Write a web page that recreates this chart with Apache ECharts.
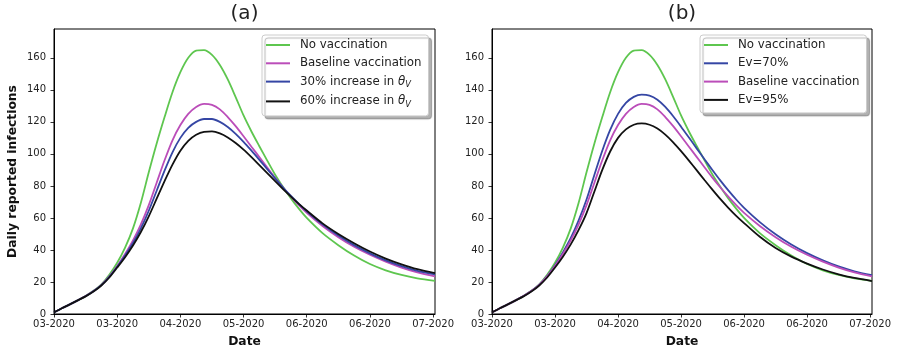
<!DOCTYPE html>
<html>
<head>
<meta charset="utf-8">
<script src="https://cdn.jsdelivr.net/npm/echarts@6/dist/echarts.min.js"></script>
<style>
html,body{margin:0;padding:0;background:#fff;}
#chart{width:898px;height:354px;}
</style>
</head>
<body>
<div id="chart"></div>
<script>
// ---- data (days since start, daily reported infections) ----
const days = [0, 2.5, 5, 7.5, 10, 12.5, 15, 17.5, 20, 22.5, 25, 27.5, 30, 32.5, 35, 37.5, 40, 42.5, 45, 47.5, 50, 52.5, 55, 57.5, 60, 62.5, 65, 67.5, 70, 72.5, 75, 77.5, 80, 85, 90, 95, 100, 105, 110, 115, 120.6];

const noVaccination = [1, 3.6, 6, 8.5, 11.3, 14.5, 18.5, 24.5, 32, 41.5, 53.5, 69.5, 88.5, 106.5, 123, 138.5, 151, 160, 164.5, 164.8, 161.8, 155.5, 146.5, 135.5, 124, 114, 104.8, 95.8, 87, 79.3, 72.2, 65.8, 60, 50.5, 43, 36.5, 31.2, 27.3, 24.4, 22.3, 20.7];
const baseline = [1, 3.6, 6, 8.5, 11.2, 14.3, 18.2, 23.5, 30, 37.5, 46, 56, 68, 82, 96, 108.5, 118, 125, 129.3, 131.2, 130.6, 127.8, 123, 117.3, 111, 104.5, 98, 91.5, 85, 79, 73.3, 68, 63.2, 55, 48, 42, 37, 32.7, 29, 26, 23.5];
const theta30 = [1, 3.6, 6, 8.5, 11.1, 14.2, 18, 23.2, 29.5, 36.5, 44.3, 53.5, 64.5, 77, 89.5, 101, 110, 116.3, 120, 121.8, 121.8, 120, 116.8, 112.5, 107.5, 102, 96.3, 90.5, 84.7, 79, 73.7, 68.8, 64.2, 56, 49, 43, 37.9, 33.5, 29.9, 27, 24.7];
const theta60 = [1, 3.6, 6, 8.5, 11, 14, 17.8, 22.8, 29, 35.5, 42.8, 51.2, 61, 72, 83, 93.3, 102, 108.2, 112, 113.8, 114, 112.8, 110.3, 106.8, 102.7, 98, 93, 88, 83, 78, 73.3, 68.8, 64.6, 56.6, 50, 44.2, 39, 34.6, 31, 28, 25.6];
const ev70 = [1, 3.6, 6, 8.5, 11.2, 14.3, 18.3, 23.7, 30.5, 38.5, 47.5, 58.5, 71.5, 87, 102, 115, 125, 131.8, 135.6, 137, 136.4, 133.8, 129.3, 123.5, 117, 110.2, 103.3, 96.5, 89.8, 83.3, 77.2, 71.5, 66.3, 57.4, 49.8, 43.4, 38, 33.5, 29.7, 26.7, 24.2];
const ev95 = [1, 3.6, 6, 8.5, 11, 14, 17.8, 22.8, 29, 35.8, 43.5, 52.5, 63, 76.5, 90, 101.5, 110, 115.3, 118.2, 119, 118.2, 115.8, 112, 107.2, 101.7, 95.8, 89.7, 83.5, 77.5, 71.7, 66.3, 61.3, 56.8, 48.2, 41.2, 35.8, 31.5, 27.8, 24.8, 22.5, 20.6];

const xTickDays = [0, 20, 40, 60, 80, 100, 120];
const xTickLabels = ['03-2020', '03-2020', '04-2020', '05-2020', '06-2020', '06-2020', '07-2020'];
const yTicks = [0, 20, 40, 60, 80, 100, 120, 140, 160];

const names = {
  none: 'No vaccination',
  base: 'Baseline vaccination',
  t30: '30% increase in θ_V',
  t60: '60% increase in θ_V',
  e70: 'Ev=70%',
  e95: 'Ev=95%'
};
const colors = {
  none: '#5ec64f',
  base: '#bb4db9',
  t30: '#3546a4',
  t60: '#111111',
  e70: '#3546a4',
  e95: '#111111'
};

const FONT = 'DejaVu Sans';
const TXT = '#222222';

function pairs(ys) { return days.map((d, i) => [d, ys[i]]); }

function xAxis(gridIndex) {
  return {
    type: 'value', gridIndex, min: 0, max: 120.6,
    name: 'Date', nameLocation: 'middle', nameGap: 22,
    nameTextStyle: { fontFamily: FONT, fontSize: 12.3, fontWeight: 'bold', color: '#111' },
    axisLine: { show: true, lineStyle: { color: '#000', width: 1 } },
    axisTick: { show: true, inside: false, length: 3.5, lineStyle: { color: '#000', width: 0.8 }, customValues: xTickDays },
    axisLabel: {
      show: true, margin: 5, fontFamily: FONT, fontSize: 10, color: TXT, hideOverlap: false,
      customValues: xTickDays,
      formatter: v => { const i = xTickDays.indexOf(v); return i >= 0 ? xTickLabels[i] : ''; }
    },
    splitLine: { show: false }
  };
}
function yAxis(gridIndex, withName) {
  return {
    type: 'value', gridIndex, min: 0, max: 178,
    name: withName ? 'Daily reported infections' : '', nameLocation: 'middle', nameGap: 35, nameRotate: 90,
    nameTextStyle: { fontFamily: FONT, fontSize: 12.3, fontWeight: 'bold', color: '#111' },
    axisLine: { show: true, lineStyle: { color: '#000', width: 1 } },
    axisTick: { show: true, inside: false, length: 3.5, lineStyle: { color: '#000', width: 0.8 }, customValues: yTicks },
    axisLabel: { show: true, margin: 8, fontFamily: FONT, fontSize: 10, color: TXT, customValues: yTicks },
    splitLine: { show: false }
  };
}
function line(key, ys, idx) {
  return {
    type: 'line', name: names[key], xAxisIndex: idx, yAxisIndex: idx,
    data: pairs(ys), showSymbol: false, symbol: 'none', smooth: 0.3,
    color: colors[key],
    lineStyle: { color: colors[key], width: 1.8 },
    emphasis: { disabled: true }, z: 2
  };
}
const richText = {
  th: { fontFamily: FONT, fontSize: 11.8, fontStyle: 'italic', color: TXT },
  sub: { fontFamily: FONT, fontSize: 8.3, fontStyle: 'italic', color: TXT, padding: [7, 0, 0, 0] }
};
function legend(left, data) {
  return {
    orient: 'vertical', left, top: 35, data: data.map(n => ({ name: n, icon: 'rect' })),
    itemWidth: 24, itemHeight: 2, itemGap: 6.3,
    padding: [4, 7, 7, 4],
    selectedMode: false,
    backgroundColor: '#ffffff', borderColor: '#cccccc', borderWidth: 1, borderRadius: 3,
    shadowColor: 'rgba(0,0,0,0.3)', shadowBlur: 1, shadowOffsetX: 3, shadowOffsetY: 3,
    textStyle: { fontFamily: FONT, fontSize: 11.8, color: TXT, padding: [0, 0, 0, 5], rich: richText },
    formatter: n => n.indexOf('θ_V') >= 0 ? n.replace('θ_V', '{th|θ}{sub|V}') : n
  };
}

const chart = echarts.init(document.getElementById('chart'), null, { renderer: 'canvas' });
chart.setOption({
  animation: false,
  backgroundColor: '#ffffff',
  title: [
    { text: '(a)', left: 244.5, top: 4, textAlign: 'center', padding: 0, textStyle: { fontFamily: FONT, fontSize: 20, fontWeight: 'normal', color: TXT } },
    { text: '(b)', left: 682, top: 4, textAlign: 'center', padding: 0, textStyle: { fontFamily: FONT, fontSize: 20, fontWeight: 'normal', color: TXT } }
  ],
  grid: [
    { left: 54, right: 463, top: 29, bottom: 40, show: true, borderColor: '#000', borderWidth: 1, backgroundColor: 'transparent' },
    { left: 492, right: 26, top: 29, bottom: 40, show: true, borderColor: '#000', borderWidth: 1, backgroundColor: 'transparent' }
  ],
  xAxis: [xAxis(0), xAxis(1)],
  yAxis: [yAxis(0, true), yAxis(1, false)],
  legend: [
    legend(262, [names.none, names.base, names.t30, names.t60]),
    legend(700, [names.none, names.e70, names.base, names.e95])
  ],
  series: [
    line('none', noVaccination, 0),
    line('base', baseline, 0),
    line('t30', theta30, 0),
    line('t60', theta60, 0),
    line('none', noVaccination, 1),
    line('e70', ev70, 1),
    line('base', baseline, 1),
    line('e95', ev95, 1)
  ]
});
</script>
</body>
</html>
